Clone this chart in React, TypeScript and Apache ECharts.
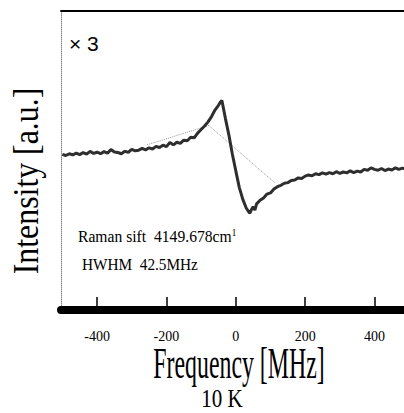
import React, { useEffect, useRef } from 'react';
import * as echarts from 'echarts';

// Detuning from line centre (MHz) and measured signal (a.u.)
const freq: number[] = [
  -500, -490, -480, -470, -460, -450, -440, -430, -420, -410,
  -400, -390, -380, -370, -360, -350, -340, -330, -320, -310,
  -300, -290, -280, -270, -260, -250, -240, -230, -220, -210,
  -200, -190, -180, -170, -160, -150, -140, -130, -120, -110,
  -100, -90, -80, -70, -60, -50, -45, -40, -30, -20,
  -10, 0, 10, 20, 30, 40, 45, 50, 55, 60,
  70, 80, 90, 100, 110, 120, 130, 140, 150, 160,
  170, 180, 190, 200, 210, 220, 230, 240, 250, 260,
  270, 280, 290, 300, 310, 320, 330, 340, 350, 360,
  370, 380, 390, 400, 410, 420, 430, 440, 450, 460,
  470, 480, 490,
];

const intensity: number[] = [
  51.4, 51.0, 51.6, 51.2, 51.8, 51.3, 52.0, 51.5, 52.4, 51.7,
  52.1, 51.6, 52.3, 51.8, 53.0, 52.2, 52.0, 51.6, 52.4, 52.1,
  53.1, 52.6, 52.8, 53.4, 52.9, 53.6, 53.2, 54.1, 53.7, 54.5,
  54.0, 55.4, 54.6, 55.5, 55.1, 56.2, 56.0, 57.2, 57.0, 58.6,
  59.8, 61.0, 62.4, 64.2, 66.4, 68.0, 69.0, 69.6, 63.6, 58.0,
  51.5, 45.8, 40.2, 36.2, 33.2, 31.4, 32.6, 33.6, 32.5, 34.6,
  35.8, 36.6, 37.9, 38.3, 39.6, 40.4, 40.9, 41.6, 41.8, 42.5,
  42.7, 43.4, 43.2, 44.0, 44.4, 44.1, 44.8, 44.5, 45.1, 44.7,
  45.2, 44.8, 45.5, 44.9, 45.4, 45.1, 45.8, 45.2, 45.7, 45.4,
  46.3, 46.0, 46.8, 46.3, 46.0, 46.6, 45.9, 46.4, 46.1, 46.8,
  46.3, 46.7, 46.4,
];

// Thin dotted guide through the dispersion shape
const guideFreq: number[] = [-256, -78, 113];
const guideIntensity: number[] = [54.6, 61.2, 41.7];

// Frequency axis tick positions
const tickValues: number[] = [-400, -200, 0, 200, 400];

const SERIF = "'Liberation Serif', 'DejaVu Serif', serif";
const SANS = 'Liberation Sans';

export default function App() {
  const ref = useRef<HTMLDivElement>(null);

  useEffect(() => {
    if (!ref.current) return;
    const chart = echarts.init(ref.current, null, { renderer: 'svg' });

    chart.setOption({
      animation: false,
      backgroundColor: '#ffffff',
      textStyle: { fontFamily: SERIF },
      grid: { left: 61, top: 11, right: 0, bottom: 103 },
      xAxis: [
        {
          type: 'value',
          min: -504,
          max: 485,
          position: 'bottom',
          splitLine: { show: false },
          axisLine: { show: true, onZero: false, lineStyle: { color: '#000', width: 8 } },
          axisTick: {
            show: true,
            inside: true,
            length: 13,
            customValues: tickValues,
            lineStyle: { color: '#000', width: 1.5 },
          },
          axisLabel: {
            customValues: tickValues,
            margin: 19,
            color: '#000',
            fontFamily: SERIF,
            fontSize: 14,
          },
        },
        {
          type: 'value',
          min: -504,
          max: 485,
          position: 'top',
          splitLine: { show: false },
          axisLine: { show: true, onZero: false, lineStyle: { color: '#000', width: 2 } },
          axisTick: { show: false },
          axisLabel: { show: false },
        },
      ],
      yAxis: {
        type: 'value',
        min: -1.4,
        max: 100,
        splitLine: { show: false },
        axisLine: { show: true, onZero: false, lineStyle: { color: '#888', width: 1, type: 'dotted' } },
        axisTick: { show: false },
        axisLabel: { show: false },
      },
      series: [
        {
          type: 'line',
          data: guideFreq.map((f, i) => [f, guideIntensity[i]]),
          showSymbol: false,
          z: 1,
          lineStyle: { color: '#999', width: 1, type: 'dotted' },
        },
        {
          type: 'line',
          data: freq.map((f, i) => [f, intensity[i]]),
          showSymbol: false,
          z: 2,
          lineStyle: { color: '#2e2e2e', width: 3 },
        },
      ],
      graphic: [
        {
          type: 'text',
          x: 69,
          y: 43,
          style: {
            text: '× 3',
            fontFamily: SANS,
            fontSize: 21,
            fill: '#000',
            textAlign: 'left',
            textVerticalAlign: 'middle',
            align: 'left',
            verticalAlign: 'middle',
          },
        },
        {
          type: 'text',
          x: 78,
          y: 236,
          scaleX: 0.92,
          style: {
            text: '{a|Raman sift\u00a0\u00a04149.678cm}{s|1}',
            fill: '#000',
            textAlign: 'left',
            textVerticalAlign: 'middle',
            align: 'left',
            verticalAlign: 'middle',
            rich: {
              a: { fontFamily: SERIF, fontSize: 17, fill: '#000' },
              s: { fontFamily: SERIF, fontSize: 10, fill: '#000', verticalAlign: 'top' },
            },
          },
        },
        {
          type: 'text',
          x: 82,
          y: 264,
          scaleX: 0.9,
          style: {
            text: 'HWHM\u00a0\u00a042.5MHz',
            fontFamily: SERIF,
            fontSize: 17,
            fill: '#000',
            textAlign: 'left',
            textVerticalAlign: 'middle',
            align: 'left',
            verticalAlign: 'middle',
          },
        },
        {
          type: 'text',
          x: 26,
          y: 181,
          rotation: Math.PI / 2,
          scaleX: 0.91,
          style: {
            text: 'Intensity [a.u.]',
            fontFamily: SERIF,
            fontSize: 35,
            fill: '#000',
            textAlign: 'center',
            textVerticalAlign: 'middle',
            align: 'center',
            verticalAlign: 'middle',
          },
        },
        {
          type: 'text',
          x: 239,
          y: 363,
          scaleX: 0.53,
          style: {
            text: 'Frequency [MHz]',
            fontFamily: SERIF,
            fontSize: 45,
            fill: '#000',
            textAlign: 'center',
            textVerticalAlign: 'middle',
            align: 'center',
            verticalAlign: 'middle',
          },
        },
        {
          type: 'text',
          x: 222,
          y: 398,
          scaleX: 0.81,
          style: {
            text: '10 K',
            fontFamily: SERIF,
            fontSize: 26,
            fill: '#000',
            textAlign: 'center',
            textVerticalAlign: 'middle',
            align: 'center',
            verticalAlign: 'middle',
          },
        },
      ],
    });

    return () => chart.dispose();
  }, []);

  return (
    <div
      ref={ref}
      style={{ position: 'absolute', left: 0, top: 0, width: 404, height: 413, background: '#fff' }}
    />
  );
}
